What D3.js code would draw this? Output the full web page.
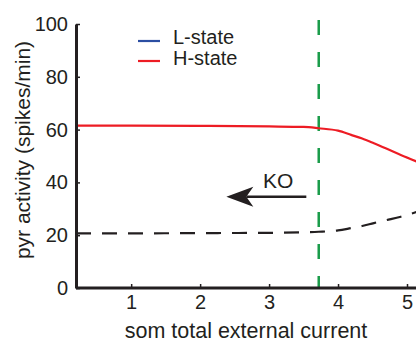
<!DOCTYPE html>
<meta charset="utf-8">
<style>
body { margin: 0; background: #fff; }
text { font-family: "Liberation Sans", Arial, sans-serif; fill: #231f20; }
</style>
<svg width="416" height="346"></svg>
<script src="https://cdn.jsdelivr.net/npm/d3@7"></script>
<script>

// values
var xTicks = [1, 2, 3, 4, 5];
var yTicks = [0, 20, 40, 60, 80, 100];
var hX = [0.2, 1, 2, 3, 3.5, 3.72, 4.0, 4.19, 4.35, 4.52, 4.7, 4.91, 5.15];
var hY = [61.5, 61.5, 61.4, 61.2, 61.0, 60.5, 59.6, 58.0, 56.6, 54.8, 52.8, 50.4, 47.8];
var koX = [0.2, 1, 2, 3, 3.5, 3.72, 4.0, 4.19, 4.35, 4.52, 4.7, 4.91, 5.15];
var koY = [20.7, 20.7, 20.8, 20.9, 21.1, 21.3, 21.8, 22.7, 23.5, 24.6, 25.7, 27.0, 28.9];
var lX = [0.2, 5.15];
var lY = [0, 0];
var koLine = 3.72;
var legendLabels = ["L-state", "H-state"];
var legendColors = ["#2b4ea2", "#ed1c24"];

var svg = d3.select("svg");

var x = d3.scaleLinear().domain([0.2, 5]).range([76, 407]);
var y = d3.scaleLinear().domain([0, 100]).range([288, 24]);

var line = d3.line()
    .x(function(d) { return x(d[0]); })
    .y(function(d) { return y(d[1]); })
    .curve(d3.curveMonotoneX);

// green KO boundary
svg.append("line")
    .attr("x1", x(koLine)).attr("x2", x(koLine))
    .attr("y1", 20).attr("y2", 288)
    .attr("stroke", "#1a9c4a")
    .attr("stroke-width", 2.5)
    .attr("stroke-dasharray", "15,17");

svg.append("path")
    .datum(d3.zip(koX, koY))
    .attr("fill", "none")
    .attr("stroke", "#231f20")
    .attr("stroke-width", 2.2)
    .attr("stroke-dasharray", "15,11")
    .attr("d", line);

svg.append("path")
    .datum(d3.zip(hX, hY))
    .attr("fill", "none")
    .attr("stroke", legendColors[1])
    .attr("stroke-width", 2.2)
    .attr("d", line);

svg.append("path")
    .datum(d3.zip(lX, lY))
    .attr("fill", "none")
    .attr("stroke", legendColors[0])
    .attr("stroke-width", 2.2)
    .attr("d", line);

// axes
var xAxis = svg.append("g")
    .attr("transform", "translate(0,288)")
    .call(d3.axisBottom(x).tickValues(xTicks).tickFormat(d3.format("d"))
      .tickSizeInner(-4).tickSizeOuter(0).tickPadding(7));

var yAxis = svg.append("g")
    .attr("transform", "translate(76,0)")
    .call(d3.axisLeft(y).tickValues(yTicks).tickFormat(d3.format("d"))
      .tickSizeInner(-4).tickSizeOuter(0).tickPadding(8));

[xAxis, yAxis].forEach(function(g) {
  g.select(".domain").attr("stroke", "#231f20").attr("stroke-width", 3);
  g.selectAll(".tick line").attr("stroke", "#231f20").attr("stroke-width", 1.5);
  g.selectAll(".tick text").attr("font-size", 20).attr("fill", "#231f20")
      .style("font-family", "'Liberation Sans', Arial, sans-serif");
});
xAxis.select(".domain").attr("d", "M76,0H416");

svg.append("text")
    .attr("x", 246).attr("y", 338)
    .attr("text-anchor", "middle")
    .attr("font-size", 21.5)
    .text("som total external current");

svg.append("text")
    .attr("transform", "translate(30,150) rotate(-90)")
    .attr("text-anchor", "middle")
    .attr("font-size", 21)
    .text("pyr activity (spikes/min)");

// legend
var leg = svg.append("g").selectAll("g")
    .data(legendLabels)
  .enter().append("g")
    .attr("transform", function(d, i) { return "translate(138," + (41 + i * 20) + ")"; });

leg.append("line")
    .attr("x1", 0).attr("x2", 22)
    .attr("stroke", function(d, i) { return legendColors[i]; })
    .attr("stroke-width", 2.2);

leg.append("text")
    .attr("x", 35).attr("y", function(d, i) { return 3 + i; })
    .attr("font-size", 20)
    .text(function(d) { return d; });

// KO arrow
var arrowTail = 3.54, arrowTip = 2.38, arrowY = 34.6;
var ax = x(arrowTip), ay = y(arrowY);

svg.append("line")
    .attr("x1", x(arrowTail)).attr("x2", ax + 20)
    .attr("y1", ay).attr("y2", ay)
    .attr("stroke", "#231f20")
    .attr("stroke-width", 2.5);

svg.append("path")
    .attr("d", "M" + ax + "," + ay + "L" + (ax + 27) + "," + (ay - 10) +
      "L" + (ax + 20) + "," + ay + "L" + (ax + 27) + "," + (ay + 10) + "Z")
    .attr("fill", "#231f20");

svg.append("text")
    .attr("x", x(3.13)).attr("y", y(38))
    .attr("text-anchor", "middle")
    .attr("font-size", 21)
    .text("KO");

</script>
